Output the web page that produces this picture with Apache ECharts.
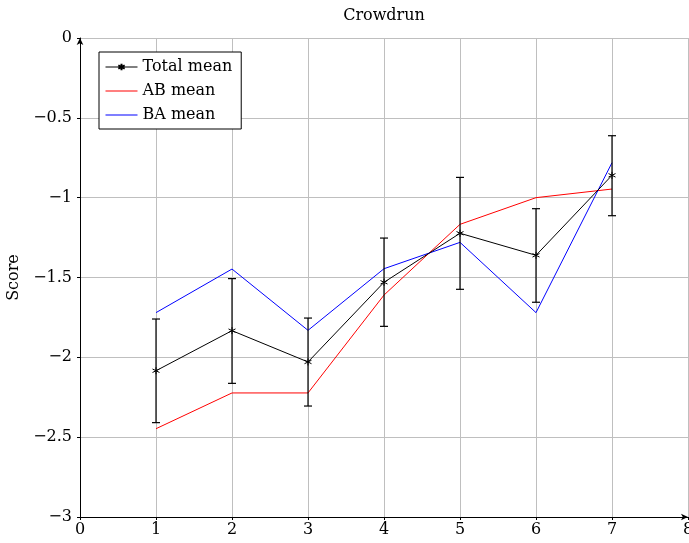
<!DOCTYPE html>
<html>
<head>
<meta charset="utf-8">
<script src="https://cdn.jsdelivr.net/npm/echarts@6/dist/echarts.min.js"></script>
<style>
  html, body { margin: 0; padding: 0; background: #fff; }
  #chart { width: 689px; height: 543px; }
</style>
</head>
<body>
<div id="chart"></div>
<script>
const xs = [1, 2, 3, 4, 5, 6, 7]
const totalMean = [-2.084, -1.833, -2.029, -1.530, -1.223, -1.361, -0.860]
const totalLow = [-2.409, -2.163, -2.305, -1.806, -1.574, -1.655, -1.113]
const totalHigh = [-1.760, -1.507, -1.754, -1.253, -0.873, -1.069, -0.612]
const abMean = [-2.447, -2.223, -2.223, -1.610, -1.167, -1.000, -0.946]
const baMean = [-1.720, -1.447, -1.831, -1.445, -1.280, -1.720, -0.781]

const font = 'DejaVu Serif'
const pairs = arr => arr.map((v, i) => [xs[i], v])
const lineIcon = 'path://M0,0L32,0L32,1L0,1Z'

const chart = echarts.init(document.getElementById('chart'))
const option = {
    animation: false,
    textStyle: {fontFamily: font, color: '#000'},
    title: {
        text: 'Crowdrun',
        left: 379,
        textAlign: 'center',
        top: 3,
        textStyle: {fontFamily: font, fontSize: 16, fontWeight: 'normal', color: '#000'}
    },
    legend: {
        orient: 'vertical',
        left: 99,
        top: 52,
        backgroundColor: '#fff',
        borderColor: '#000',
        borderWidth: 1,
        borderRadius: 0,
        padding: [6, 9, 5, 6],
        itemGap: 6,
        itemWidth: 32,
        itemHeight: 8,
        lineStyle: {width: 1},
        symbolKeepAspect: true,
        textStyle: {fontFamily: font, fontSize: 16, lineHeight: 18, color: '#000'},
        data: [
            {name: 'Total mean'},
            {name: 'AB mean', icon: lineIcon},
            {name: 'BA mean', icon: lineIcon}
        ]
    },
    grid: {left: 80, right: 1, top: 38, bottom: 26, containLabel: false, outerBoundsMode: 'none'},
    xAxis: {
        type: 'value',
        min: 0, max: 8, interval: 1,
        axisLine: {onZero: false, lineStyle: {color: '#000', width: 1}, symbol: ['none', 'arrow'], symbolSize: [5, 7]},
        axisTick: {inside: false, length: 3, lineStyle: {color: '#000'}},
        axisLabel: {fontFamily: font, fontSize: 16, color: '#000', margin: 5},
        splitLine: {show: true, lineStyle: {color: '#bfbfbf', width: 1}}
    },
    yAxis: {
        type: 'value',
        min: -3, max: 0, interval: 0.5,
        name: 'Score',
        nameLocation: 'middle',
        nameGap: 56,
        nameTextStyle: {fontFamily: font, fontSize: 16, color: '#000'},
        axisLine: {show: true, onZero: false, lineStyle: {color: '#000', width: 1}, symbol: ['none', 'arrow'], symbolSize: [5, 7]},
        axisTick: {show: true, inside: false, length: 3, lineStyle: {color: '#000'}},
        axisLabel: {fontFamily: font, fontSize: 16, color: '#000', margin: 8,
            formatter: v => String(v).replace('-', '\u2212')},
        splitLine: {show: true, lineStyle: {color: '#bfbfbf', width: 1}}
    },
    series: [
        {
            name: 'Total mean',
            type: 'line',
            data: pairs(totalMean),
            symbol: 'path://M0,-4L0,4M-3.5,-2L3.5,2M-3.5,2L3.5,-2',
            symbolSize: 7,
            itemStyle: {color: '#000', borderColor: '#000', borderWidth: 1},
            lineStyle: {color: '#000', width: 1},
            z: 5
        },
        {
            name: 'AB mean',
            type: 'line',
            data: pairs(abMean),
            symbol: 'none',
            itemStyle: {color: '#ff0000'},
            lineStyle: {color: '#ff0000', width: 1},
            z: 3
        },
        {
            name: 'BA mean',
            type: 'line',
            data: pairs(baMean),
            symbol: 'none',
            itemStyle: {color: '#0000ff'},
            lineStyle: {color: '#0000ff', width: 1},
            z: 3
        },
        {
            name: 'err',
            type: 'custom',
            data: xs.map((x, i) => [x, totalLow[i], totalHigh[i]]),
            renderItem: function (params, api) {
                const lo = api.coord([api.value(0), api.value(1)])
                const hi = api.coord([api.value(0), api.value(2)])
                const w = 4
                const st = {stroke: '#000', lineWidth: 1.2}
                return {
                    type: 'group',
                    children: [
                        {type: 'line', shape: {x1: lo[0], y1: lo[1], x2: hi[0], y2: hi[1]}, style: st},
                        {type: 'line', shape: {x1: lo[0] - w, y1: lo[1], x2: lo[0] + w, y2: lo[1]}, style: st},
                        {type: 'line', shape: {x1: hi[0] - w, y1: hi[1], x2: hi[0] + w, y2: hi[1]}, style: st}
                    ]
                }
            },
            z: 6
        }
    ]
}
chart.setOption(option)
</script>
</body>
</html>
